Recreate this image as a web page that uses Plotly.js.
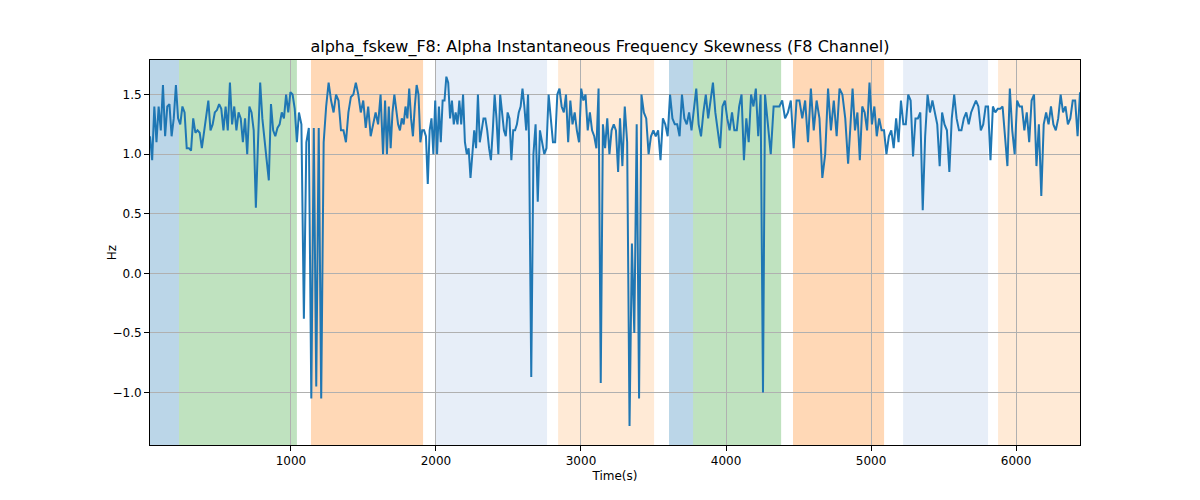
<!DOCTYPE html>
<html>
<head>
<script src="https://cdn.plot.ly/plotly-3.0.1.min.js"></script>
</head>
<body style="margin:0">
<div id="graph"></div>
<script>
var tStart = 28, tEnd = 6441;
// values, in segments; each segment spans [segStart, segEnd] seconds
var seg1 = [1.15,0.95,1.4,1.1,1.4,1.2,1.58,1.15,1.4,1.42,1.15,1.3,1.58,1.3,1.25,1.4,1.35,1.05,1.05,1.03,1.3,1.18,1.2,1.18,1.05,1.2,1.3,1.45,1.2,1.25,1.35,1.37,1.42,1.38,1.2,1.4,1.2,1.6,1.25,1.4,1.2,1.35,1.3,1.1,1.3,1.0,1.4,1.35,1.2,0.55,1.1,1.6,1.3,1.1,0.95,0.78,1.42,1.2,1.15,1.22,1.25,1.35,1.3,1.5,1.35,1.52,1.5,1.38,1.1];
var seg2 = [1.35,1.25,-0.38,1.1,1.22,-1.05,1.22,-0.95,1.22,-1.05,1.1,1.4,1.6,1.45,1.35,1.5,1.45,1.2,1.2,1.1,1.35,1.48,1.5,1.6,1.5,1.35,1.45,1.22,1.4,1.15,1.25,1.35,1.25,1.5,1.0];
var seg3 = [1.45,1.0,1.4,1.05,1.35,1.5,1.35,1.25,1.2,1.3,1.25,1.4,1.3,1.55,1.3,1.15,1.4,1.58,1.5,1.1,1.2,1.2,1.15,0.75,1.2,1.3,1.0,1.45,1.0,1.4,1.1,1.45,1.45,1.65,1.6,1.3,1.45,1.25,1.35,1.25,1.45,1.25,1.5,1.1,1.0,1.05,0.8,1.0,1.2,1.05,1.5,1.1,1.2,1.3,1.3,1.2,1.05,0.95,1.2,1.5,1.3,1.0,1.5,1.35,1.2,1.15,1.35,1.3,0.95,1.2,1.2,1.25,1.35,1.4,1.55,1.4,1.2,1.5];
var seg4 = [1.1,-0.87,1.0,1.25,0.6,1.2,1.1,1.0,1.05,1.5,1.3,1.1,1.1,1.5,1.55,1.4,1.35,1.5,1.1,1.45,1.25,1.35,1.2,1.1,1.55,1.45,1.5,1.2,1.35,1.2,1.15,1.05,1.55,-0.92,1.25,1.05,1.3,1.0,1.2,1.25,1.2,0.85];
var seg5 = [1.3,0.9,1.4,1.1,-1.28,0.25,-0.5,1.25,-1.05,1.5,1.35,1.3,1.0,1.15,1.2,1.15,1.2,0.95,1.3,1.25,1.15,1.5,1.3,1.25,1.25,1.15,1.5,1.3,1.25,1.35,1.2,1.4,1.55,1.25,1.15,1.35,1.5,1.3,1.45,1.6,1.35,1.2,1.05,1.4,1.45,1.3,1.2,1.35,1.2,1.2,1.4,1.5,0.95,1.3,1.1,1.5,1.4,1.55,1.15,1.5,-1.0];
var seg6 = [1.5,1.25,1.0,1.4,1.4,1.4,1.45,1.3,1.35,1.45,1.05,1.45,1.45,1.3,1.45,1.1,1.55,1.2,1.45,1.3,0.8,1.0,1.55,1.2,1.45,1.15,1.55,1.5,1.3,0.92];
var seg7 = [1.2,1.55,1.2,1.35,0.95,1.4,1.35,1.2,1.6,1.25,1.4,1.15,1.3,1.2,1.2,1.0,1.15,1.2,1.05,1.3,1.1,1.45,1.25,1.25,1.5,1.45,0.98,1.3,1.3,1.35,0.53,1.15,1.5,1.35,1.45,1.35,1.25,0.9,1.35,1.25,1.2,0.85,1.3,1.5,1.3,1.2,1.2,1.3,1.35,1.25,1.35,1.4,1.45,1.4,1.2,1.25,1.4,1.4,0.95,1.4,1.35,1.38,1.38,1.4,1.15,0.9,1.55,1.2,1.0,1.45,1.4,1.4,1.2,1.35,1.1,1.45,1.5,0.9,1.25,0.65,1.25,1.35,1.25,1.4,1.25,1.2,1.3,1.5,1.35,1.4,1.25,1.3,1.45,1.45,1.15,1.52];
var segs = [seg1, seg2, seg3, seg4, seg5, seg6, seg7];
var segStart = [28, 1055, 1649, 2642, 3269, 4269, 4856];
var segEnd   = [1041, 1635, 2635, 3256, 4255, 4842, 6441];

var times = [], values = [];
segs.forEach(function(seg, k) {
  seg.forEach(function(v, i) {
    times.push(segStart[k] + i * (segEnd[k] - segStart[k]) / (seg.length - 1));
    values.push(v);
  });
});

var bandStart = [28, 228, 1138, 1998, 2842, 3607, 3773, 4462, 5221, 5876];
var bandEnd   = [228, 1041, 1911, 2766, 3504, 3773, 4380, 5090, 5807, 6441];
var bandColor = ['rgba(31,119,180,0.3)', 'rgba(44,160,44,0.3)', 'rgba(255,127,14,0.3)', 'rgba(174,199,232,0.3)', 'rgba(255,187,120,0.3)',
                 'rgba(31,119,180,0.3)', 'rgba(44,160,44,0.3)', 'rgba(255,127,14,0.3)', 'rgba(174,199,232,0.3)', 'rgba(255,187,120,0.3)'];

var shapes = bandStart.map(function(s, i) {
  return {type: 'rect', xref: 'x', yref: 'paper', x0: s, x1: bandEnd[i], y0: 0, y1: 1,
          fillcolor: bandColor[i], line: {width: 0}, layer: 'below'};
});

var trace = {
  type: 'scatter', mode: 'lines', x: times, y: values,
  line: {color: '#1f77b4', width: 2}
};

var axisStyle = {
  showgrid: true, gridcolor: '#b0b0b0', gridwidth: 1,
  showline: true, linecolor: 'black', linewidth: 1, mirror: true,
  ticks: 'outside', tickcolor: 'black', zeroline: false
};

var layout = {
  width: 1200, height: 500,
  margin: {l: 150, r: 120, t: 60, b: 55},
  font: {family: 'DejaVu Sans', size: 12, color: 'black'},
  title: {text: 'alpha_fskew_F8: Alpha Instantaneous Frequency Skewness (F8 Channel)', x: 0.5, y: 0.908, yanchor: 'middle', font: {size: 16}},
  xaxis: Object.assign({}, axisStyle, {range: [tStart, tEnd], tickvals: [1000, 2000, 3000, 4000, 5000, 6000],
                        title: {text: 'Time(s)', standoff: 4, font: {size: 12}}}),
  yaxis: Object.assign({}, axisStyle, {range: [-1.44, 1.79], tickvals: [-1.0, -0.5, 0, 0.5, 1.0, 1.5],
                        ticktext: ['\u22121.0', '\u22120.5', '0.0', '0.5', '1.0', '1.5'], title: {text: 'Hz', font: {size: 12}}}),
  shapes: shapes,
  showlegend: false,
  plot_bgcolor: 'white', paper_bgcolor: 'white'
};

Plotly.newPlot('graph', [trace], layout, {displayModeBar: false});
</script>
</body>
</html>
